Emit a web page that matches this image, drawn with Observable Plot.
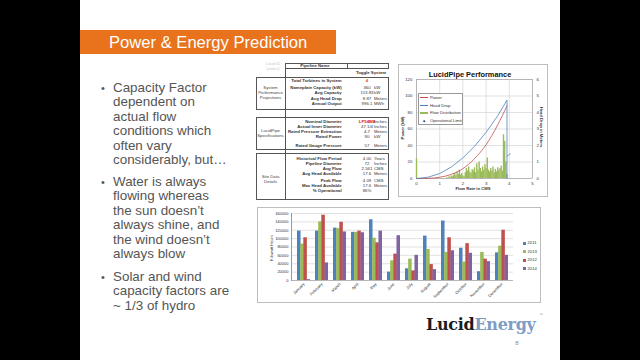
<!DOCTYPE html>
<html><head><meta charset="utf-8">
<script src="https://cdn.jsdelivr.net/npm/d3@7"></script>
<script src="https://cdn.jsdelivr.net/npm/@observablehq/plot@0.6"></script>
<style>
html,body{margin:0;padding:0;background:#000;width:640px;height:360px;overflow:hidden;font-family:"Liberation Sans",Arial,sans-serif;}
#slide{position:absolute;left:80px;top:0;width:480px;height:360px;background:#fff;}
.abs{position:absolute;white-space:nowrap;line-height:1;}
.box{position:absolute;box-sizing:border-box;}
.bul{position:absolute;left:113px;width:140px;font-size:13.4px;line-height:14.4px;color:#555;white-space:nowrap;}
.bul::before{content:"•";position:absolute;left:-12px;top:0;font-size:11px;}
.plotwrap{position:absolute;}
</style></head><body>
<div id="slide"></div>
<script>
// ---------- data ----------
const titleText = "Power & Energy Prediction";
const bullets = [
  ["Capacity Factor","dependent on","actual flow","conditions which","often vary","considerably, but…"],
  ["Water is always","flowing whereas","the sun doesn’t","always shine, and","the wind doesn’t","always blow"],
  ["Solar and wind","capacity factors are","~ 1/3 of hydro"]
];
const sysLabels = ["Total Turbines in System","Nameplate Capacity (kW)","Avg Capacity","Avg Head Drop","Annual Output"];
const sysValues = ["4","360","113.83","8.87","996.1"];
const sysUnits = ["","kW","kW","Meters","MWh"];
const specLabels = ["Nominal Diameter","Actual Inner Diameter","Rated Pressure Extraction","Rated Power","Rated Gauge Pressure"];
const specValues = ["LP54BB","47 1/4","4.7","90","57"];
const specUnits = ["Inches","Inches","Meters","kW","Meters"];
const siteLabels = ["Historical Flow Period","Pipeline Diameter","Avg Flow","Avg Head Available","Peak Flow","Max Head Available","% Operational"];
const siteValues = ["4.00","72","2.561","17.6","4.09","17.6","86%"];
const siteUnits = ["Years","Inches","CMS","Meters","CMS","Meters",""];
const sectionNames = [["System","Performance","Projections"],["LucidPipe","Specifications"],["Site Data","Details"]];

// LucidPipe performance chart
const pipeXTicks = [0,1,2,3,4,5];
const pipeYTicks = [0,20,40,60,80,100,120];
const pipeY2Labels = ["0","1","2","3","4","5","6"];
const powerFlow = [0,0.5,1,1.5,2,2.5,3,3.5,3.9];
const powerKW   = [0,0.2,1.5,5,12,24,41,65,88];
const headFlow  = [0,0.5,1,1.5,2,2.5,3,3.5,3.9,3.9];
const headDropM = [0,0.08,0.3,0.7,1.25,1.95,2.8,3.8,4.75,0];
const opLimitFlow = [3.9,4.05];
const opLimitKW   = [27,30];
const flowBinX = [0,1.3,1.35,1.4,1.45,1.5,1.55,1.6,1.65,1.7,1.75,1.8,1.85,1.9,1.95,2.0,2.05,2.1,2.15,2.2,2.25,2.3,2.35,2.4,2.45,2.5,2.55,2.6,2.65,2.7,2.75,2.8,2.85,2.9,2.95,3.0,3.05,3.1,3.15,3.2,3.25,3.3,3.35,3.4,3.45,3.5,3.55,3.6,3.65,3.7,3.75,3.8,3.85,3.9];
const flowBinH = [24,1,0,2,1,3,2,4,6,3,8,5,10,4,6,3,2,7,12,9,14,8,6,11,9,13,7,18,10,20,12,8,14,10,17,12,25,10,8,12,9,14,7,11,8,13,10,12,15,9,53,45,20,5];
const pipeLegend = ["Power","Head Drop","Flow Distribution","Operational Limit"];

// monthly bar chart
const months = ["January","February","March","April","May","June","July","August","September","October","November","December"];
const years = ["2011","2013","2012","2014"];
const kwh2011 = [118000,118000,125000,115000,145000,20000,28000,106000,142000,77000,21000,66000];
const kwh2013 = [87000,140000,124000,115000,101000,47000,51000,74000,67000,44000,67000,82000];
const kwh2012 = [102000,156000,139000,118000,90000,63000,23000,38000,102000,88000,51000,120000];
const kwh2014 = [2000,42000,116000,114000,118000,107000,60000,26000,71000,65000,45000,60000];
const barYTicks = [0,20000,40000,60000,80000,100000,120000,140000,160000];
const yearColors = ["#4f81bd","#9bbb59","#c0504d","#8064a2"];

// ---------- helpers ----------
function txt(s, x, y, anchor, style) {
  const d = document.createElement("div");
  d.className = "abs";
  d.textContent = s;
  const tx = anchor === "end" ? "-100%" : anchor === "middle" ? "-50%" : "0";
  Object.assign(d.style, {left: x + "px", top: y + "px", transform: `translate(${tx},-50%)`}, style || {});
  document.body.appendChild(d);
  return d;
}
function box(x1, y1, x2, y2, style) {
  const d = document.createElement("div");
  d.className = "box";
  Object.assign(d.style, {left: x1 + "px", top: y1 + "px", width: (x2 - x1) + "px", height: (y2 - y1) + "px"}, style || {});
  document.body.appendChild(d);
  return d;
}

// ---------- title ----------
box(80, 30, 336, 54, {background: "#e8731c"});
txt(titleText, 109, 42.5, "start", {color: "#fff", fontSize: "16.6px"});

// ---------- bullets ----------
const bulTops = [81, 175, 270];
bullets.forEach((lines, i) => {
  const d = document.createElement("div");
  d.className = "bul";
  d.style.top = bulTops[i] + "px";
  d.innerHTML = lines.join("<br>");
  document.body.appendChild(d);
});

// ---------- table ----------
const tStyle = {fontSize: "4.3px", color: "#333", fontWeight: "bold"};
const vStyle = {fontSize: "4.3px", color: "#333"};
txt("Lucid ID", 273, 64, "middle", {fontSize: "4px", color: "#c8c8c8"});
txt("(select)", 273, 68.5, "middle", {fontSize: "4px", color: "#c8c8c8"});
box(285, 63, 389, 69, {border: "0.6px solid #555"});
box(347, 63, 347.6, 69, {background: "#555"});
txt("Pipeline Name", 315, 66, "middle", tStyle);
txt("Toggle System", 371, 73.3, "middle", {fontSize: "4.3px", color: "#333", fontWeight: "bold"});
box(285, 63, 285.6, 200, {background: "#555"});
const sections = [
  {labels: sysLabels, values: sysValues, units: sysUnits, ys: [81, 87.5, 93.3, 98.5, 103.5], top: 77, bottom: 110, nameY: 88},
  {labels: specLabels, values: specValues, units: specUnits, ys: [121.7, 127.2, 132.3, 137.3, 145.5], top: 117, bottom: 150, nameY: 131},
  {labels: siteLabels, values: siteValues, units: siteUnits, ys: [159.3, 164, 169, 174, 180.7, 186, 191], top: 153, bottom: 200, nameY: 177}
];
sections.forEach((s, si) => {
  box(256, s.top, 389, s.bottom, {border: "0.6px solid #555"});
  sectionNames[si].forEach((n, k) => txt(n, 270.5, s.nameY + k * 5, "middle", {fontSize: "4.3px", color: "#444"}));
  s.labels.forEach((l, k) => {
    txt(l, 341.7, s.ys[k], "end", tStyle);
    let col = "#333";
    if (s.values[k] === "LP54BB") col = "#e0201a";
    if (si === 0 && k === 0) col = "#d9531e";
    txt(s.values[k], 367, s.ys[k], "middle", {fontSize: "4.3px", color: col, fontWeight: col !== "#333" ? "bold" : "normal"});
    if (s.units[k]) txt(s.units[k], 374, s.ys[k], "start", vStyle);
  });
});

// ---------- LucidPipe Performance chart ----------
box(398, 64, 548, 197, {border: "0.7px solid #bdbdbd"});
const powerData = powerFlow.map((x, i) => ({x, p: powerKW[i]}));
const headData = headFlow.map((x, i) => ({x, m: headDropM[i]}));
const opData = opLimitFlow.map((x, i) => ({x, p: opLimitKW[i]}));
const flowData = flowBinX.map((x, i) => ({x, h: flowBinH[i]}));
const pipePlot = Plot.plot({
  width: 150, height: 133,
  marginLeft: 18, marginRight: 16, marginTop: 15, marginBottom: 19,
  style: {fontSize: "4.4px", fontFamily: "Liberation Sans, Arial, sans-serif", color: "#333", background: "transparent", overflow: "visible"},
  x: {domain: [0, 5]},
  y: {domain: [0, 120]},
  marks: [
    Plot.gridX(pipeXTicks, {stroke: "#cfcfcf", strokeOpacity: 1, strokeWidth: 0.6}),
    Plot.gridY(pipeYTicks, {stroke: "#cfcfcf", strokeOpacity: 1, strokeWidth: 0.6}),
    Plot.frame({stroke: "#9a9a9a", strokeWidth: 0.6}),
    Plot.ruleX(flowData, {x: "x", y1: 0, y2: "h", stroke: "#9bbb59", strokeWidth: 1.4}),
    Plot.line(powerData, {x: "x", y: "p", stroke: "#c0504d", strokeWidth: 0.8, curve: "monotone-x"}),
    Plot.line(headData, {x: "x", y: d => d.m * 20, stroke: "#4f81bd", strokeWidth: 0.8}),
    Plot.line(opData, {x: "x", y: "p", stroke: "#4f81bd", strokeWidth: 0.7}),
    Plot.axisX(pipeXTicks, {tickSize: 0, tickPadding: 3, label: null}),
    Plot.axisY(pipeYTicks, {tickSize: 0, tickPadding: 4, label: null}),
    Plot.axisY(pipeYTicks, {anchor: "right", tickSize: 0, tickPadding: 4, label: null, tickFormat: (d, i) => pipeY2Labels[i]})
  ]
});
const pw = document.createElement("div");
pw.className = "plotwrap";
pw.style.left = "398px"; pw.style.top = "64px";
pw.appendChild(pipePlot);
document.body.appendChild(pw);
txt("LucidPipe Performance", 470, 75, "middle", {fontSize: "7.4px", fontWeight: "bold", color: "#111"});
txt("Flow Rate in CMS", 473, 188.5, "middle", {fontSize: "4.2px", fontWeight: "bold", color: "#333"});
txt("Power (kW)", 403, 128, "middle", {fontSize: "4.2px", fontWeight: "bold", color: "#333", transform: "translate(-50%,-50%) rotate(-90deg)"});
txt("Head Drop in Meters", 541, 127, "middle", {fontSize: "4.2px", fontWeight: "bold", color: "#333", transform: "translate(-50%,-50%) rotate(90deg)"});
// legend
box(418, 93, 463, 125, {border: "0.6px solid #999", background: "#fff"});
const legY = [97.7, 105.5, 113.3, 121];
const legStyle = [
  {background: "#c0504d", height: "0.8px"},
  {background: "#4f81bd", height: "0.8px"},
  {background: "#9bbb59", height: "2px"},
  null
];
pipeLegend.forEach((l, i) => {
  if (legStyle[i]) box(420, legY[i] - (i === 2 ? 1 : 0.4), 428, legY[i] + (i === 2 ? 1 : 0.4), legStyle[i]);
  else txt("◆", 424, legY[i], "middle", {fontSize: "3px", color: "#333"});
  txt(l, 430, legY[i], "start", {fontSize: "4.2px", color: "#333"});
});

// ---------- Monthly bar chart ----------
box(257, 207, 541, 303, {border: "0.7px solid #bdbdbd"});
const bW = 264, bH = 96, bml = 34, bmr = 8, bmt = 6, bmb = 23, bpad = 0.3;
const band = d3.scaleBand().domain(months).range([bml, bW - bmr]).padding(bpad);
const sub = band.bandwidth() / 4;
const series = [kwh2011, kwh2013, kwh2012, kwh2014];
const barData = [];
months.forEach((m, mi) => years.forEach((y, yi) => barData.push({month: m, year: y, value: series[yi][mi]})));
const barPlot = Plot.plot({
  width: bW, height: bH,
  marginLeft: bml, marginRight: bmr, marginTop: bmt, marginBottom: bmb,
  style: {fontSize: "4px", fontFamily: "Liberation Sans, Arial, sans-serif", color: "#333", background: "transparent", overflow: "visible"},
  x: {type: "band", domain: months, padding: bpad},
  y: {domain: [0, 160000]},
  marks: [
    Plot.gridY(barYTicks, {stroke: "#cfcfcf", strokeOpacity: 1, strokeWidth: 0.6}),
    ...years.map((yr, i) => Plot.barY(barData.filter(d => d.year === yr), {
      x: "month", y: "value", fill: yearColors[i], insetLeft: i * sub, insetRight: (3 - i) * sub
    })),
    Plot.ruleY([0], {stroke: "#999", strokeWidth: 0.6}),
    Plot.axisX({tickSize: 0, tickPadding: 3, tickRotate: -45, label: null}),
    Plot.axisY(barYTicks, {tickSize: 0, tickPadding: 3, label: null, tickFormat: d3.format("d")})
  ]
});
const bw = document.createElement("div");
bw.className = "plotwrap";
bw.style.left = "257px"; bw.style.top = "207px";
bw.appendChild(barPlot);
document.body.appendChild(bw);
box(290.5, 213, 291.1, 281, {background: "#999"});
txt("Kilowatt Hours", 272, 248, "middle", {fontSize: "4px", color: "#333", transform: "translate(-50%,-50%) rotate(-90deg)"});
// legend
const bLegY = [243, 251.5, 260, 268.5];
years.forEach((y, i) => {
  box(523, bLegY[i] - 1.5, 526, bLegY[i] + 1.5, {background: yearColors[i]});
  txt(y, 527.5, bLegY[i], "start", {fontSize: "4.2px", color: "#333"});
});

// ---------- logo & page ----------
const logo = document.createElement("div");
logo.className = "abs";
Object.assign(logo.style, {left: "426px", top: "317px", fontFamily: "DejaVu Serif, serif", fontWeight: "bold", fontSize: "16px", letterSpacing: "-0.3px"});
logo.innerHTML = '<span style="color:#1c1c1c">Lucid</span><span style="color:#7e9cc4">Energy</span>';
document.body.appendChild(logo);
txt("™", 539, 315, "start", {fontSize: "4px", color: "#999"});
txt("8", 517, 343, "middle", {fontSize: "6px", color: "#8a8a8a"});
</script>
</body></html>
